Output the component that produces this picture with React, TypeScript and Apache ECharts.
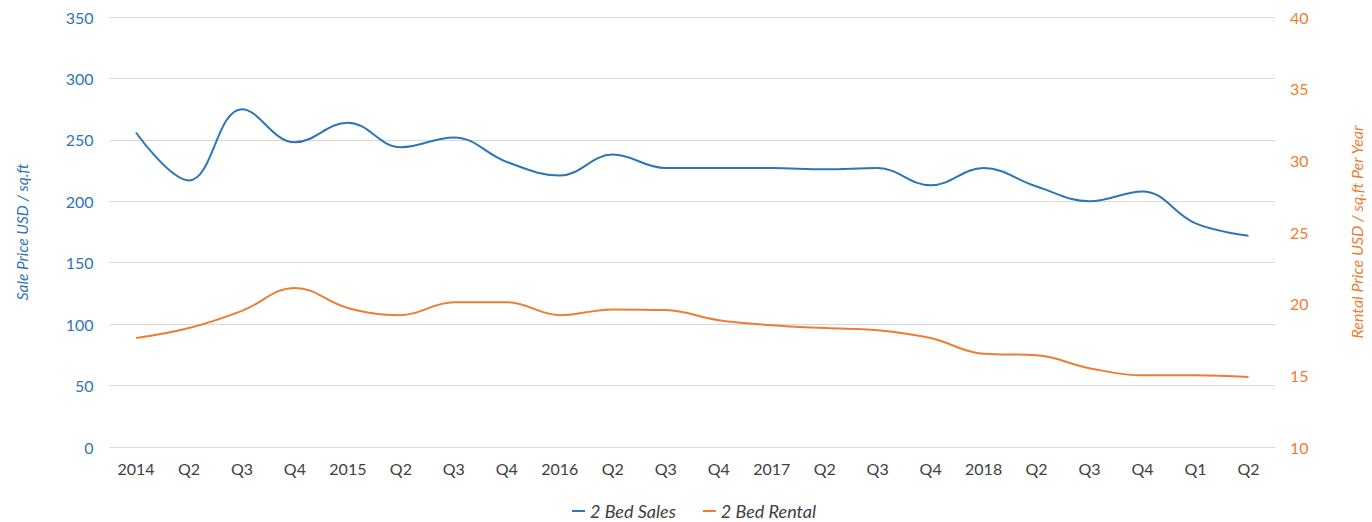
import React, { useEffect, useRef } from "react";
import * as echarts from "echarts";

// Quarter labels along the x axis
const quarters = [
  "2014", "Q2", "Q3", "Q4",
  "2015", "Q2", "Q3", "Q4",
  "2016", "Q2", "Q3", "Q4",
  "2017", "Q2", "Q3", "Q4",
  "2018", "Q2", "Q3", "Q4",
  "Q1", "Q2",
];

// Sale price, USD per sq.ft (left axis)
const salesValues = [
  256, 217, 275, 248,
  264, 244, 252, 232,
  221, 238, 227, 227,
  227, 226, 227, 213,
  227, 212, 200, 208,
  182, 172,
];

// Rental price, USD per sq.ft per year (right axis)
const rentalValues = [
  17.6, 18.3, 19.5, 21.1,
  19.7, 19.2, 20.1, 20.1,
  19.2, 19.6, 19.55, 18.85,
  18.5, 18.3, 18.15, 17.6,
  16.5, 16.4, 15.5, 15.0,
  15.0, 14.88,
];

const FONT = "Lato, 'Open Sans', sans-serif";
const BLUE = "#2e75b6";
const ORANGE = "#ed7d31";

export default function App() {
  const ref = useRef<HTMLDivElement>(null);

  useEffect(() => {
    if (!ref.current) return;
    const chart = echarts.init(ref.current, null, { renderer: "svg" });
    chart.setOption({
      animation: false,
      backgroundColor: "#ffffff",
      textStyle: { fontFamily: FONT },
      grid: { left: 109.5, right: 90.5, top: 17, bottom: 75, containLabel: false },
      legend: {
        left: 572,
        top: 502,
        padding: 0,
        itemWidth: 13,
        itemHeight: 2,
        itemGap: 27,
        icon: "rect",
        textStyle: {
          fontFamily: FONT,
          fontSize: 18,
          lineHeight: 18,
          fontStyle: "italic",
          color: "#404040",
        },
        data: [
          { name: "2 Bed Sales", itemStyle: { color: BLUE } },
          { name: "2 Bed Rental", itemStyle: { color: ORANGE } },
        ],
      },
      xAxis: {
        type: "category",
        data: quarters,
        boundaryGap: true,
        axisLine: { lineStyle: { color: "#d9d9d9", width: 1 } },
        axisTick: { show: false },
        axisLabel: { color: "#404040", fontSize: 16, fontFamily: FONT, margin: 13, interval: 0 },
      },
      yAxis: [
        {
          type: "value",
          min: 0,
          max: 350,
          interval: 50,
          name: "Sale Price USD / sq.ft",
          nameLocation: "middle",
          nameGap: 80,
          nameTextStyle: { color: BLUE, fontSize: 15.5, fontStyle: "italic", fontFamily: FONT },
          axisLine: { show: false },
          axisTick: { show: false },
          axisLabel: { color: BLUE, fontSize: 16, fontFamily: FONT, margin: 16 },
          splitLine: { lineStyle: { color: "#d9d9d9", width: 1 } },
        },
        {
          type: "value",
          min: 10,
          max: 40,
          interval: 5,
          position: "right",
          name: "Rental Price USD / sq.ft Per Year",
          nameLocation: "middle",
          nameRotate: 90,
          nameGap: 73,
          nameTextStyle: { color: ORANGE, fontSize: 16, fontStyle: "italic", fontFamily: FONT },
          axisLine: { show: false },
          axisTick: { show: false },
          axisLabel: { color: ORANGE, fontSize: 16, fontFamily: FONT, margin: 15 },
          splitLine: { show: false },
        },
      ],
      series: [
        {
          name: "2 Bed Sales",
          type: "line",
          yAxisIndex: 0,
          data: salesValues,
          smooth: 0.4,
          showSymbol: false,
          symbol: "none",
          lineStyle: { color: BLUE, width: 2 },
          itemStyle: { color: BLUE },
        },
        {
          name: "2 Bed Rental",
          type: "line",
          yAxisIndex: 1,
          data: rentalValues,
          smooth: 0.4,
          showSymbol: false,
          symbol: "none",
          lineStyle: { color: ORANGE, width: 2 },
          itemStyle: { color: ORANGE },
        },
      ],
    });
    return () => chart.dispose();
  }, []);

  return (
    <div
      ref={ref}
      style={{ position: "absolute", left: 0, top: 0, width: 1372, height: 522, background: "#fff" }}
    />
  );
}
